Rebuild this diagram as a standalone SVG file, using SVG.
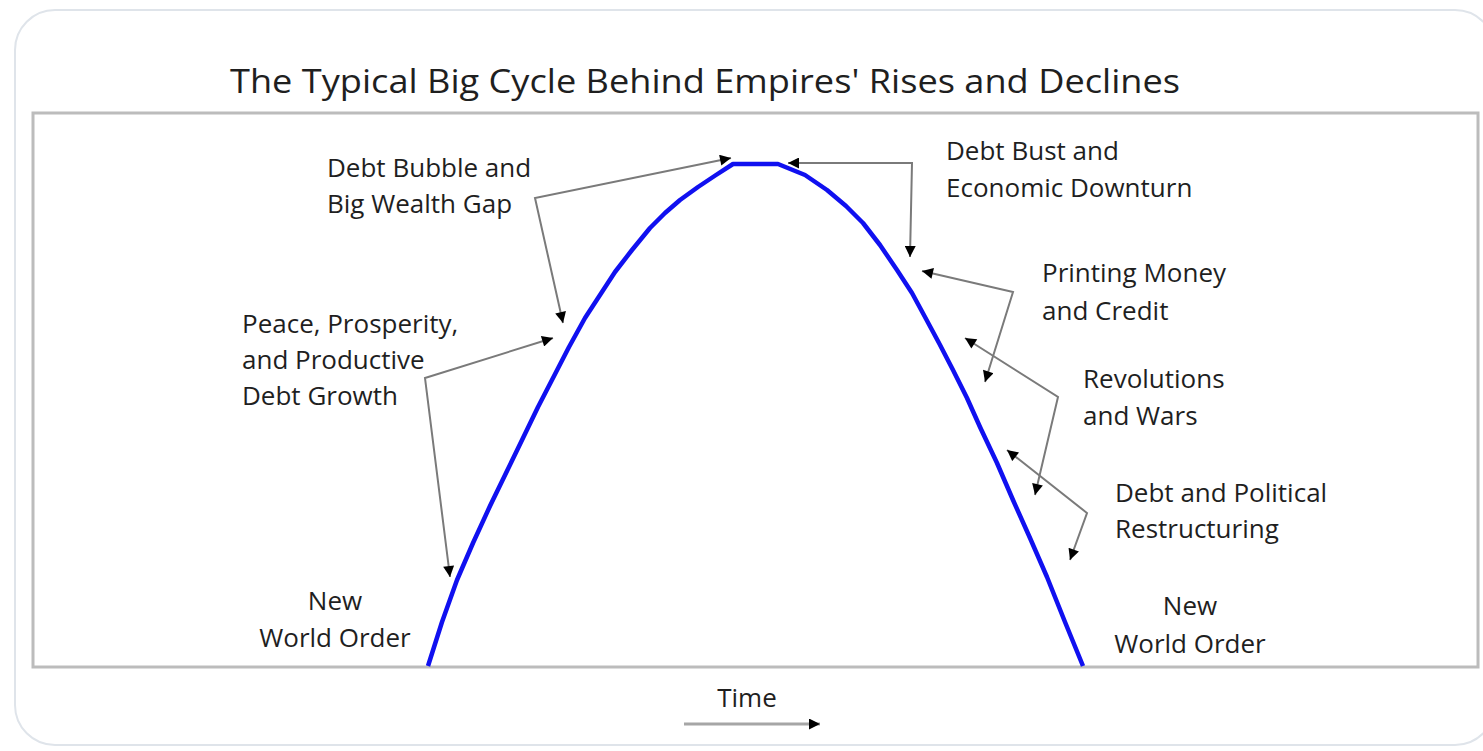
<svg xmlns="http://www.w3.org/2000/svg" width="1483" height="751" viewBox="0 0 1483 751">
<style>
.lbl{font-family:"Open Sans","Liberation Sans",sans-serif;font-size:26px;fill:#1f1f1f}
.ttl{font-family:"Open Sans","Liberation Sans",sans-serif;font-size:33px;fill:#1f1f1f}
.con{fill:none;stroke:#7a7a7a;stroke-width:2;marker-start:url(#ah);marker-end:url(#ah)}
</style>
<defs>
<marker id="ah" viewBox="0 0 10 10" refX="10" refY="5" markerUnits="userSpaceOnUse" markerWidth="13" markerHeight="11" orient="auto-start-reverse">
<path d="M0,0 L10,5 L0,10 z" fill="#000"/>
</marker>
</defs>
<rect x="0" y="0" width="1483" height="751" fill="#fff"/>
<rect id="frame" x="15" y="10" width="1480" height="735" rx="40" fill="#fff" stroke="#dfe4ea" stroke-width="2"/>
<g id="title"><text class="ttl" x="230" y="93" textLength="950" lengthAdjust="spacingAndGlyphs">The Typical Big Cycle Behind Empires' Rises and Declines</text></g>
<rect id="chart" x="33" y="113" width="1445" height="554" fill="#fff" stroke="#bcbcbc" stroke-width="3"/>
<g id="cycle">
<polyline fill="none" stroke="#1010f0" stroke-width="4.5" stroke-linejoin="round" points="428,666 442,622 457,580 473,543 490,506 507,471 523,438 538,407 553,378 569,347 585,318 600,295 615,272 632,250 650,228 665,213 680,200 698,187 716,175 733,164 778,164 805,175 827,190 846,206 863,223 880,245 897,270 912,293 925,317 939,343 953,370 967,398 980,427 997,463 1013,500 1030,538 1047,577 1065,622 1083,666"/>
</g>
<g id="connectors">
<path class="con" d="M731,158 L535,198 L563,323"/>
<path class="con" d="M553,338 L425,378 L450,577"/>
<path class="con" d="M788,163 L912,163 L910,257"/>
<path class="con" d="M922,271 L1013,292 L985,382"/>
<path class="con" d="M965,338 L1058,397 L1035,495"/>
<path class="con" d="M1007,450 L1087,513 L1070,560"/>
<path d="M684,724 L820,724" fill="none" stroke="#a6a6a6" stroke-width="3" marker-end="url(#ah)"/>
</g>
<g id="n-bubble"><text class="lbl" x="327" y="177">Debt Bubble and</text><text class="lbl" x="327" y="213">Big Wealth Gap</text></g>
<g id="n-peace"><text class="lbl" x="242" y="333">Peace, Prosperity,</text><text class="lbl" x="242" y="369">and Productive</text><text class="lbl" x="242" y="405">Debt Growth</text></g>
<g id="n-nwo-left"><text class="lbl" x="335" y="610" text-anchor="middle">New</text><text class="lbl" x="335" y="647" text-anchor="middle">World Order</text></g>
<g id="n-bust"><text class="lbl" x="946" y="160">Debt Bust and</text><text class="lbl" x="946" y="197">Economic Downturn</text></g>
<g id="n-printing"><text class="lbl" x="1042" y="282">Printing Money</text><text class="lbl" x="1042" y="320">and Credit</text></g>
<g id="n-revolutions"><text class="lbl" x="1083" y="388">Revolutions</text><text class="lbl" x="1083" y="425">and Wars</text></g>
<g id="n-restructuring"><text class="lbl" x="1115" y="502">Debt and Political</text><text class="lbl" x="1115" y="538">Restructuring</text></g>
<g id="n-nwo-right"><text class="lbl" x="1190" y="615" text-anchor="middle">New</text><text class="lbl" x="1190" y="653" text-anchor="middle">World Order</text></g>
<g id="n-time"><text class="lbl" x="747" y="707" text-anchor="middle">Time</text></g>
</svg>
